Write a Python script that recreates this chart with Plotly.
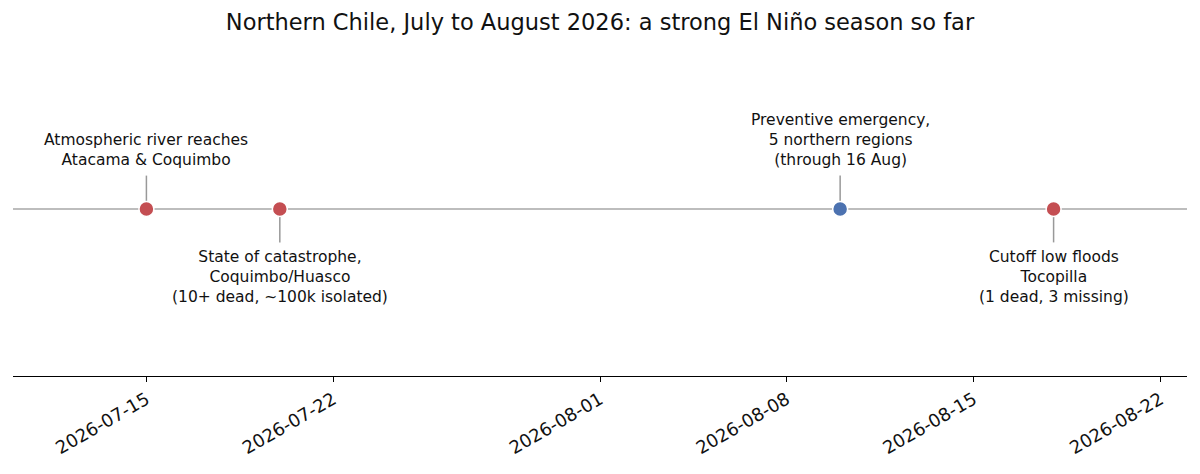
import plotly.graph_objects as go

event_dates = ["2026-07-15", "2026-07-20", "2026-08-10", "2026-08-18"]
event_labels = [
    "Atmospheric river reaches<br>Atacama & Coquimbo",
    "State of catastrophe,<br>Coquimbo/Huasco<br>(10+ dead, ~100k isolated)",
    "Preventive emergency,<br>5 northern regions<br>(through 16 Aug)",
    "Cutoff low floods<br>Tocopilla<br>(1 dead, 3 missing)",
]
event_kinds = ["impact", "impact", "warning", "impact"]
tick_dates = ["2026-07-15", "2026-07-22", "2026-08-01", "2026-08-08", "2026-08-15", "2026-08-22"]
title_text = "Northern Chile, July to August 2026: a strong El Niño season so far"

kind_colors = {"impact": "#c44e52", "warning": "#4c72b0"}
FONT = "DejaVu Sans"

fig = go.Figure()

# baseline
fig.add_trace(go.Scatter(
    x=["2026-07-10", "2026-08-23"], y=[0, 0], mode="lines",
    line=dict(color="#bdbdbd", width=2), hoverinfo="skip", showlegend=False,
))

stem_h = 0.2
for i, (d, lab, k) in enumerate(zip(event_dates, event_labels, event_kinds)):
    side = 1 if i % 2 == 0 else -1
    fig.add_trace(go.Scatter(
        x=[d, d], y=[0, side * stem_h], mode="lines",
        line=dict(color="#999999", width=1.5), hoverinfo="skip", showlegend=False,
    ))
    fig.add_annotation(
        x=d, y=side * 0.25, text=lab, showarrow=False,
        yanchor="bottom" if side > 0 else "top", xanchor="center",
        yshift=-4 if side > 0 else 5,
        font=dict(family=FONT, size=15.5, color="#111111"), align="center",
    )

fig.add_trace(go.Scatter(
    x=event_dates, y=[0] * len(event_dates), mode="markers",
    marker=dict(size=15, color=[kind_colors[k] for k in event_kinds],
                line=dict(color="white", width=1.5)),
    hoverinfo="skip", showlegend=False,
))

fig.update_layout(
    width=1200, height=474,
    margin=dict(l=13, r=13, t=42, b=98),
    paper_bgcolor="white", plot_bgcolor="white",
    title=dict(text=title_text, x=0.5, xanchor="center", y=0.953, yanchor="middle",
               font=dict(family=FONT, size=22.5, color="#111111")),
    xaxis=dict(
        type="date", range=["2026-07-10", "2026-08-23"],
        tickvals=tick_dates, tickformat="%Y-%m-%d", tickangle=-30,
        showline=True, linecolor="black", linewidth=1.3,
        ticks="outside", ticklen=5, tickcolor="black", tickwidth=1.2,
        showgrid=False, zeroline=False,
        tickfont=dict(family=FONT, size=18, color="#111111"),
    ),
    yaxis=dict(range=[-1, 1], visible=False, showgrid=False, zeroline=False),
)

fig.write_html("out.html", config={"displayModeBar": False},
               post_script="document.body.style.margin='0';")
